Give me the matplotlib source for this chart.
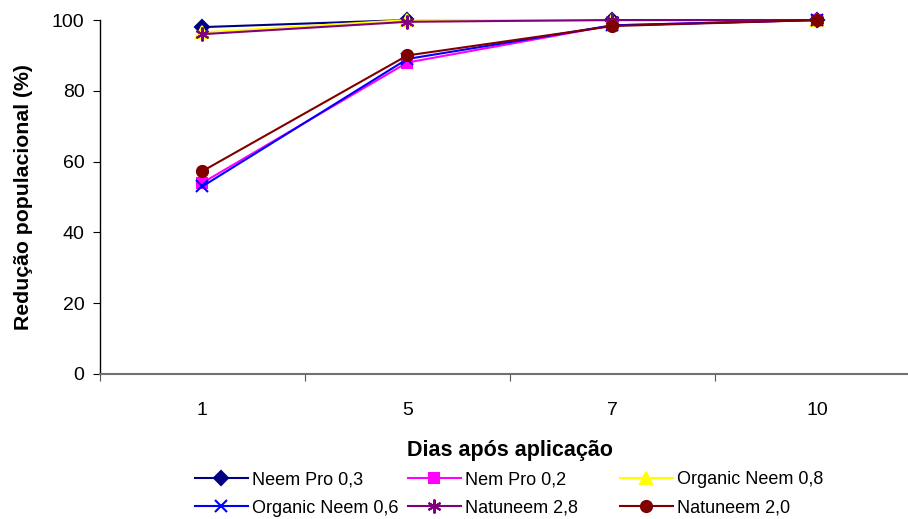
import matplotlib.pyplot as plt

plt.rcParams['font.family'] = ['Liberation Sans', 'DejaVu Sans']

dias = ['1', '5', '7', '10']
neem_pro_03 = [98.0, 100, 100, 100]
nem_pro_02 = [54.0, 88.0, 98.5, 100]
organic_08 = [96.5, 100, 100, 100]
organic_06 = [53.0, 89.0, 98.5, 100]
natuneem_28 = [96.0, 99.5, 100, 100]
natuneem_20 = [57.3, 90.0, 98.3, 100]

series = [
    ('Neem Pro 0,3', neem_pro_03, '#000080', 'D', 7),
    ('Nem Pro 0,2', nem_pro_02, '#ff00ff', 's', 7),
    ('Organic Neem 0,8', organic_08, '#ffff00', '^', 8),
    ('Organic Neem 0,6', organic_06, '#0000ff', 'x', 9),
    ('Natuneem 2,8', natuneem_28, '#800080', (6, 2, 0), 10),
    ('Natuneem 2,0', natuneem_20, '#800000', 'o', 8),
]

fig = plt.figure(figsize=(9.08, 5.19), dpi=100)
ax = fig.add_axes([0.110, 0.2794, 0.903, 0.682])

x = range(len(dias))
lines = []
for name, vals, col, mk, ms in series:
    ln, = ax.plot(x, vals, color=col, marker=mk, markersize=ms, lw=1.5,
                  markeredgewidth=1.5, label=name, clip_on=False)
    lines.append(ln)

ax.set_xlim(-0.5, 3.5)
ax.set_ylim(0, 100)
ax.set_yticks([0, 20, 40, 60, 80, 100])
ax.set_xticks([-0.5, 0.5, 1.5, 2.5])
ax.set_xticklabels([])
ax.set_xticks(list(x), minor=True)
ax.set_xticklabels(dias, minor=True)
ax.tick_params(axis='x', which='minor', length=0, pad=20, labelsize=14)
ax.tick_params(axis='x', which='major', direction='out', length=5, color='#555555')
ax.tick_params(axis='y', direction='out', length=5, labelsize=14, pad=6)

for s in ['top', 'right']:
    ax.spines[s].set_visible(False)
ax.spines['bottom'].set_color('#707070')
ax.spines['bottom'].set_linewidth(1.5)
ax.spines['left'].set_linewidth(1.0)

ax.set_xlabel('Dias após aplicação', fontsize=15.5, fontweight='bold', labelpad=15)
ax.set_ylabel('Redução populacional (%)', fontsize=15.3, fontweight='bold', labelpad=14)

# legend: three columns of two rows, filled row by row
col_x = [195 / 908, 408 / 908, 620 / 908]
for i, cx in enumerate(col_x):
    hs = [lines[i], lines[i + 3]]
    fig.legend(hs, [h.get_label() for h in hs], loc='center left',
               bbox_to_anchor=(cx, 0.048), frameon=False, fontsize=13,
               handlelength=2.93, handletextpad=0.25, labelspacing=0.62,
               borderpad=0, borderaxespad=0)

fig.savefig('out.png', dpi=100)
